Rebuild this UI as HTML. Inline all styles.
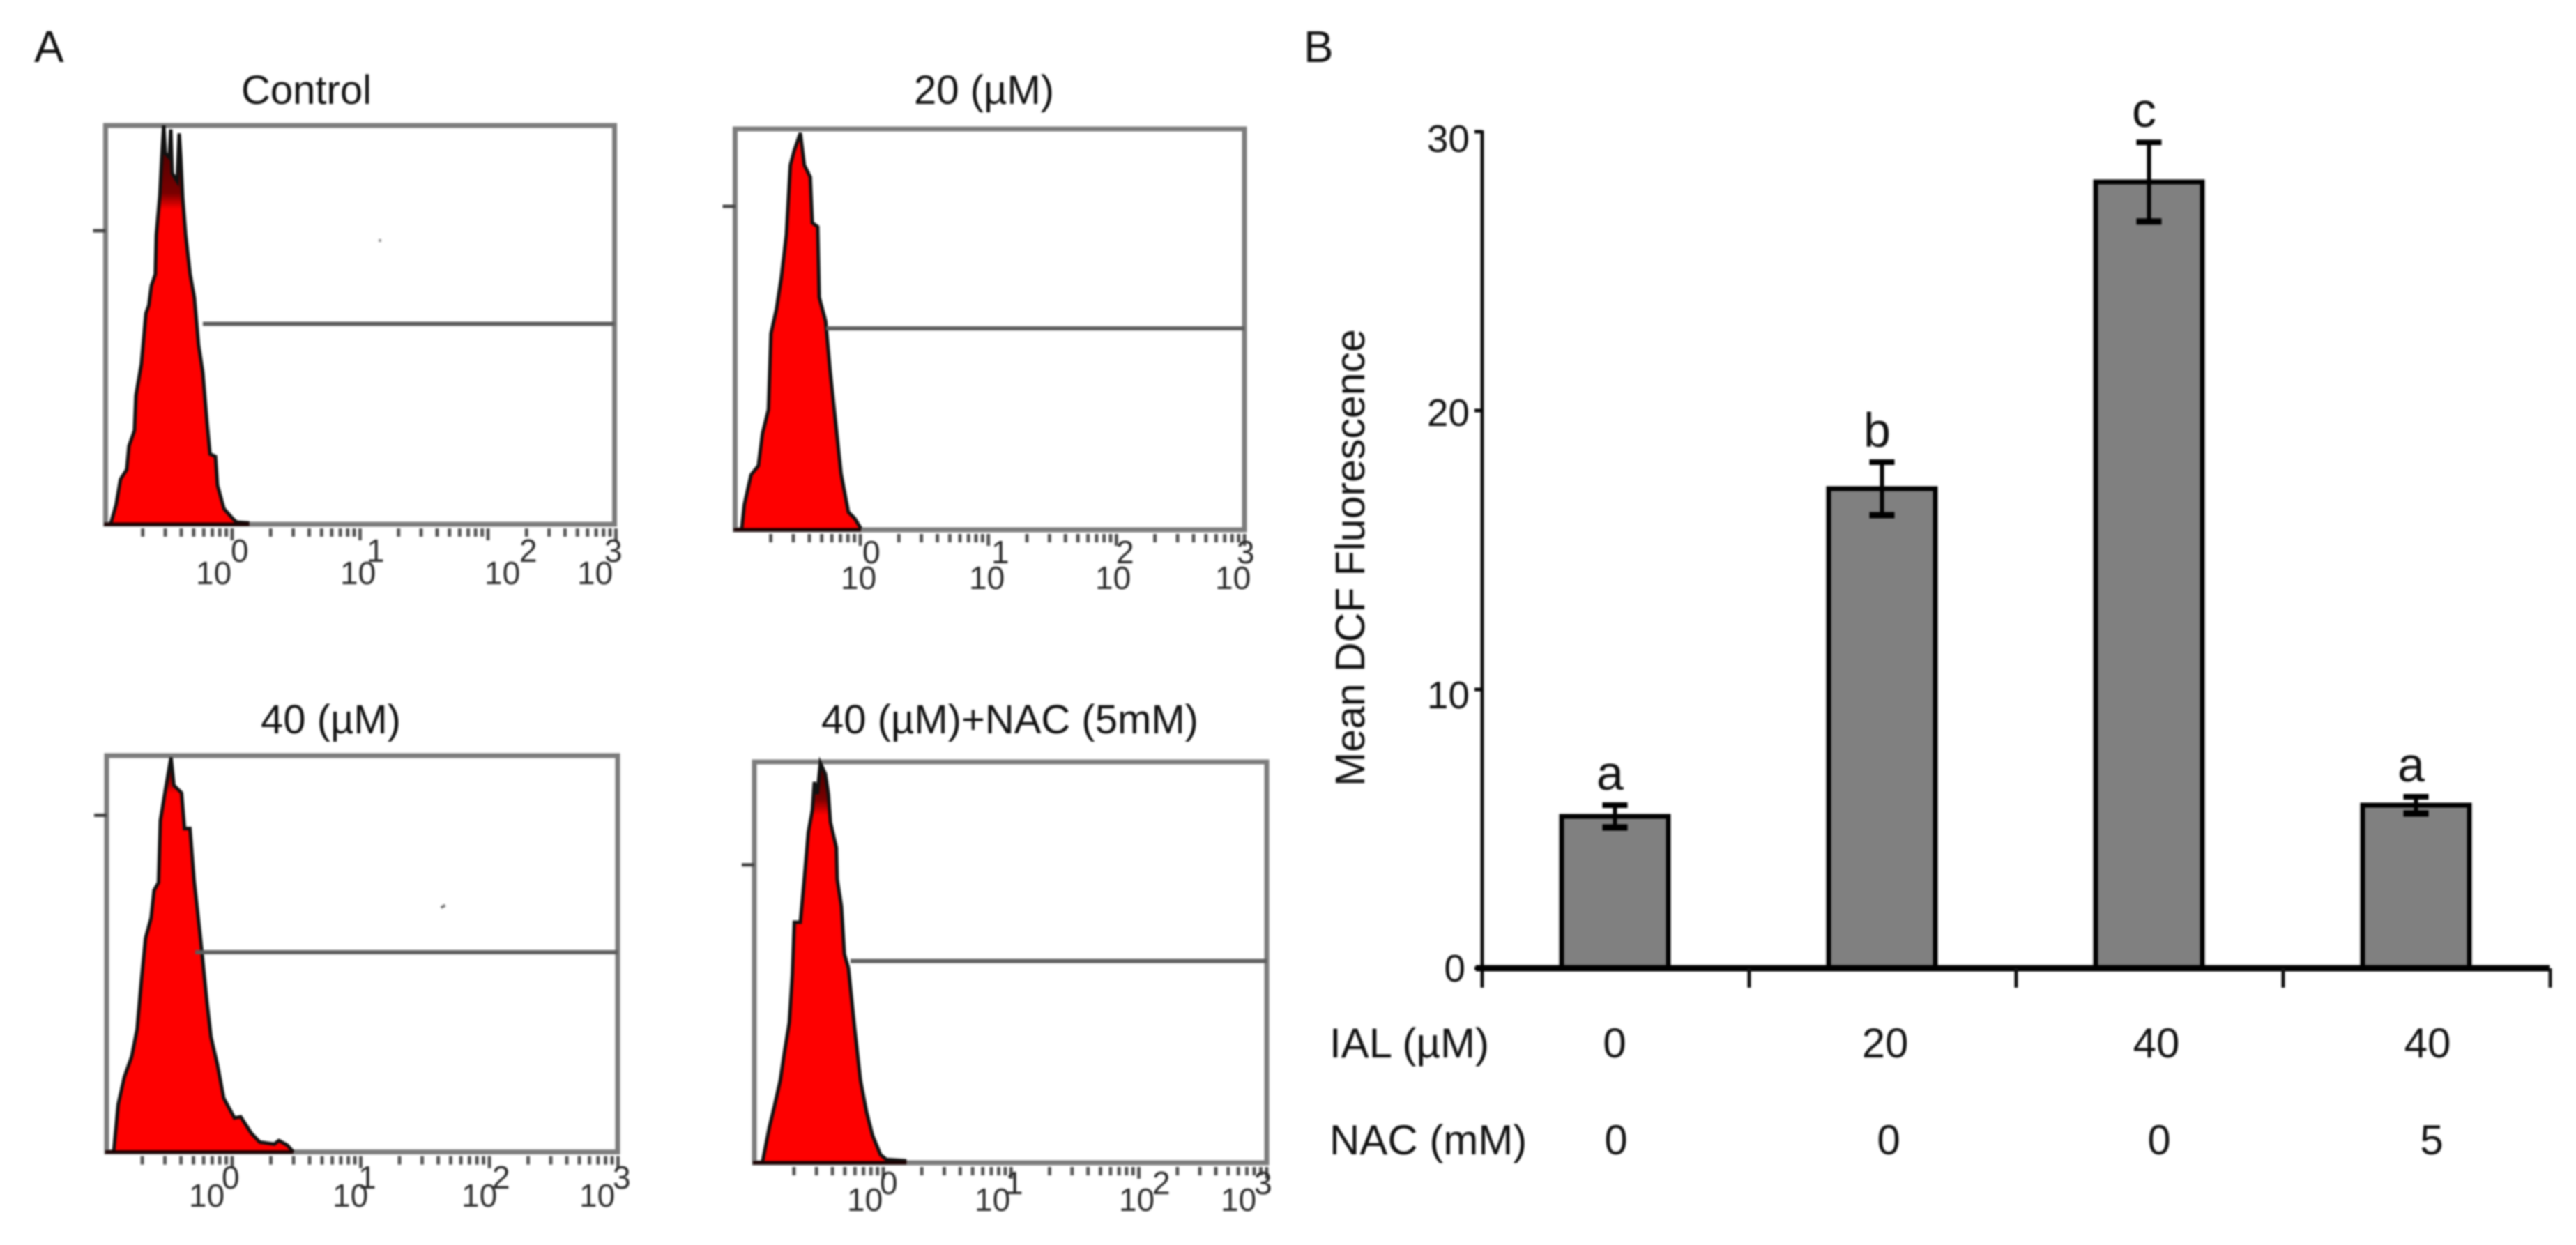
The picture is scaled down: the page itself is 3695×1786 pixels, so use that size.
<!DOCTYPE html>
<html lang="en">
<head>
<meta charset="utf-8">
<title>Flow cytometry histograms and mean DCF fluorescence</title>
<style>
html,body{margin:0;padding:0;background:#fff;width:3695px;height:1786px;overflow:hidden}
svg{display:block;filter:blur(1.3px)}
text{font-family:"Liberation Sans",sans-serif;fill:#111}
.title{font-size:58px}
.tick{font-size:46px;fill:#2a2a2a}
.num{font-size:55px}
.row{font-size:60px}
.ytitle{font-size:59px}
.panel{font-size:64px}
</style>
</head>
<body>
<svg id="figure" xmlns="http://www.w3.org/2000/svg" width="3695" height="1786" viewBox="0 0 3695 1786">
  <rect width="3695" height="1786" fill="#fff"/>

  <text class="panel" x="49" y="89">A</text>
  <text class="panel" x="1870" y="89">B</text>

  <text class="title" x="346" y="149">Control</text>
  <text class="title" x="1311" y="149">20 (µM)</text>
  <text class="title" x="374" y="1052">40 (µM)</text>
  <text class="title" x="1178" y="1052">40 (µM)+NAC (5mM)</text>

  <g id="control-panel"></g>
  <g id="um20-panel"></g>
  <g id="um40-panel"></g>
  <g id="nac-panel"></g>

  <g>
    <text class="tick"><tspan x="281" y="838">10</tspan><tspan x="331" y="806">0</tspan></text>
    <text class="tick"><tspan x="488" y="838">10</tspan><tspan x="526" y="806">1</tspan></text>
    <text class="tick"><tspan x="695" y="838">10</tspan><tspan x="745" y="806">2</tspan></text>
    <text class="tick"><tspan x="828" y="838">10</tspan><tspan x="867" y="806">3</tspan></text>
  </g>
  <g>
    <text class="tick"><tspan x="1206" y="845">10</tspan><tspan x="1237" y="808">0</tspan></text>
    <text class="tick"><tspan x="1390" y="845">10</tspan><tspan x="1422" y="808">1</tspan></text>
    <text class="tick"><tspan x="1571" y="845">10</tspan><tspan x="1601" y="808">2</tspan></text>
    <text class="tick"><tspan x="1743" y="845">10</tspan><tspan x="1774" y="808">3</tspan></text>
  </g>
  <g>
    <text class="tick"><tspan x="271" y="1731">10</tspan><tspan x="318" y="1705">0</tspan></text>
    <text class="tick"><tspan x="477" y="1731">10</tspan><tspan x="514" y="1705">1</tspan></text>
    <text class="tick"><tspan x="662" y="1731">10</tspan><tspan x="706" y="1705">2</tspan></text>
    <text class="tick"><tspan x="831" y="1731">10</tspan><tspan x="879" y="1705">3</tspan></text>
  </g>
  <g>
    <text class="tick"><tspan x="1215" y="1737">10</tspan><tspan x="1262" y="1713">0</tspan></text>
    <text class="tick"><tspan x="1398" y="1737">10</tspan><tspan x="1442" y="1713">1</tspan></text>
    <text class="tick"><tspan x="1605" y="1737">10</tspan><tspan x="1653" y="1713">2</tspan></text>
    <text class="tick"><tspan x="1751" y="1737">10</tspan><tspan x="1799" y="1713">3</tspan></text>
  </g>

  <rect x="543" y="343" width="4" height="4" fill="#999"/>
  <rect x="632" y="1298" width="7" height="4" fill="#777" transform="rotate(-30 636 1300)"/>

  <g id="bar-chart"></g>

  <text class="ytitle" transform="translate(1957 1128) rotate(-90)" x="0" y="0">Mean DCF Fluorescence</text>
  <text class="num" x="2108" y="218" text-anchor="end">30</text>
  <text class="num" x="2108" y="611" text-anchor="end">20</text>
  <text class="num" x="2108" y="1016" text-anchor="end">10</text>
  <text class="num" x="2102" y="1408" text-anchor="end">0</text>

  <text class="row" x="1907" y="1517">IAL (µM)</text>
  <text class="row" x="2316" y="1517" text-anchor="middle">0</text>
  <text class="row" x="2704" y="1517" text-anchor="middle">20</text>
  <text class="row" x="3093" y="1517" text-anchor="middle">40</text>
  <text class="row" x="3482" y="1517" text-anchor="middle">40</text>
  <text class="row" x="1907" y="1656">NAC (mM)</text>
  <text class="row" x="2318" y="1656" text-anchor="middle">0</text>
  <text class="row" x="2709" y="1656" text-anchor="middle">0</text>
  <text class="row" x="3097" y="1656" text-anchor="middle">0</text>
  <text class="row" x="3488" y="1656" text-anchor="middle">5</text>
</svg>

<script>
// Histogram data: channel (0-1024) and count (% of frame height)
const controlChannels = [10,21,30,42.5,47,58,61,72,81,87,92,100,102,109,113,117,120,128,131,134,144,148,151,155,161,170,178.5,187,195.5,204,210,221,225,238,255,263.5,289];
const controlCounts = [0,4.9,11.3,13.7,19.6,23.5,32.3,40.2,52.9,54.9,59.8,62.7,72.5,82.3,92,100,93,92,99,88,86,98,92,82,72.5,62.7,56.8,45,38,25.5,17.6,17,9.8,3.9,1.5,0.5,0.3];
const um20Channels = [13,18.5,32,46.7,55,67,72,83,93,103,111,119,131,139,151,155,166,169,182,191,203.5,213,227.6,240,253];
const um20Counts = [0,6.3,13.7,16,24,30,49,55,63,73.7,91,94.7,99,91,88,76.6,75.6,58,52,39.5,25,14,4.4,2.9,0.3];
const um40Channels = [14,23,35.6,50,61,69.5,78,89,95,104,107.6,118,129,134.7,150,156,167,175,185.5,190.6,200.7,209,222,234.6,256,268.5,290,306.6,336,345,362,374];
const um40Counts = [0,12,19,24,31,43,54,59,66,68,83.6,91.6,99.5,92.5,90.6,81.6,81.6,68.7,56.8,50.8,38,29,22,13.6,8.6,8.9,4.7,2.5,2,2.9,1.7,0];
const nacChannels = [16,30,40,52,60,70,76,80,92,100,108,116,120,126,132,142,148,152,164,165.6,174,180,188,200,212,224,236,252,264,304];
const nacCounts = [0,8.8,14,20.6,27.5,35,47,60,60,71,82.5,88,95,92,99.7,97,92,85,78.6,70.7,64,52,48.6,34,20.6,12.8,6.9,2,0.8,0.5];

// Bar chart data
const groups = ['IAL 0 / NAC 0','IAL 20 / NAC 0','IAL 40 / NAC 0','IAL 40 / NAC 5'];
const meanFluorescence = [5.45,17.2,28.2,5.85];
const errorMagnitudes = [0.4,0.95,1.42,0.3];
const significanceLetters = ['a','b','c','a'];
const yTickValues = [0,10,20,30];

const SVGNS = 'http://www.w3.org/2000/svg';
function make(parent, tag, attrs) {
  const el = document.createElementNS(SVGNS, tag);
  for (const k in attrs) el.setAttribute(k, attrs[k]);
  parent.appendChild(el);
  return el;
}

const defs = make(document.getElementById('figure'), 'defs', {});
function shadeGradient(id, depth) {
  const grad = make(defs, 'linearGradient', {id: id, x1: 0, x2: 0, y1: 0, y2: 1});
  make(grad, 'stop', {offset: 0, 'stop-color': depth > 0 ? '#3a0000' : '#fe0000'});
  make(grad, 'stop', {offset: depth, 'stop-color': depth > 0 ? '#7a0000' : '#fe0000'});
  make(grad, 'stop', {offset: depth + 0.04, 'stop-color': '#fe0000'});
  make(grad, 'stop', {offset: 1, 'stop-color': '#fe0000'});
}

function drawHistogram(groupId, box, channels, counts) {
  const g = document.getElementById(groupId);
  const w = box.right - box.left, h = box.bottom - box.top;
  const xOf = ch => box.left + ch / 1024 * w;
  const yOf = c => box.bottom - c / 100 * h;
  const pts = channels.map((ch, i) => xOf(ch).toFixed(1) + ',' + yOf(counts[i]).toFixed(1));
  const lastX = xOf(channels[channels.length - 1]);

  shadeGradient(groupId + '-grad', box.shade);

  const frame = make(g, 'rect', {x: box.left, y: box.top, width: w, height: h, fill: '#fff', stroke: '#7c7c7c', 'stroke-width': 7});
  
  

  const fill = make(g, 'polygon', {points: xOf(channels[0]) + ',' + box.bottom + ' ' + pts.join(' ') + ' ' + lastX + ',' + box.bottom, fill: 'url(#' + groupId + '-grad)', stroke: 'none'});
  
  

  const outline = make(g, 'polyline', {points: pts.join(' '), fill: 'none', stroke: '#111', 'stroke-width': 5, 'stroke-linejoin': 'miter'});
  
  

  const base = make(g, 'line', {x1: box.left - 2, x2: lastX, y1: box.bottom, y2: box.bottom, stroke: '#1a0000', 'stroke-width': 5});
  
  

  const marker = make(g, 'line', {x1: box.markerX, x2: box.right, y1: box.markerY, y2: box.markerY, stroke: '#5c5c5c', 'stroke-width': 6});
  
  

  const yt = make(g, 'line', {x1: box.left - 18, x2: box.left, y1: box.yTick, y2: box.yTick, stroke: '#444', 'stroke-width': 5});
  
  

  const decadeX = d => box.zero + (d - 1) * box.decade;
  for (let d = 0; d < 4; d++) {
    for (let m = 2; m <= 10; m++) {
      const x = decadeX(d) + Math.log10(m) * box.decade;
      if (x > box.right + 2) continue;
      const t = make(g, 'line', {x1: x, x2: x, y1: box.bottom + 6, y2: box.bottom + (m === 10 ? 23 : 18), stroke: '#555', 'stroke-width': 5});
      
      
    }
  }
}

drawHistogram('control-panel', {left:151.5,right:881.6,top:180,bottom:752,markerX:291,markerY:464.5,yTick:331,zero:333,decade:183.5,shade:0.17}, controlChannels, controlCounts);
drawHistogram('um20-panel', {left:1054.5,right:1785,top:185,bottom:760,markerX:1185,markerY:471,yTick:296,zero:1234,decade:183.7,shade:0}, um20Channels, um20Counts);
drawHistogram('um40-panel', {left:153,right:886,top:1084,bottom:1652.6,markerX:280,markerY:1366,yTick:1169.5,zero:333,decade:184.5,shade:0.05}, um40Channels, um40Counts);
drawHistogram('nac-panel', {left:1082,right:1817,top:1093,bottom:1668,markerX:1220,markerY:1378.6,yTick:1240.7,zero:1267,decade:183.3,shade:0.09}, nacChannels, nacCounts);

// Bar chart
(function () {
  const g = document.getElementById('bar-chart');
  const yOf = v => 1389 - v * 40;
  const band = 383;
  const centre = i => 2126 + band * (i + 0.5);
  const barW = 153;

  groups.forEach((name, i) => {
    const cx = centre(i) - 1;
    const top = yOf(meanFluorescence[i]);
    const bar = make(g, 'rect', {x: cx - barW / 2, y: top, width: barW, height: 1389 - top, fill: '#808080', stroke: '#000', 'stroke-width': 7});
    
    

    const hi = yOf(meanFluorescence[i] + errorMagnitudes[i]);
    const lo = yOf(meanFluorescence[i] - errorMagnitudes[i]);
    const stem = make(g, 'line', {x1: cx, x2: cx, y1: hi, y2: lo, stroke: '#000', 'stroke-width': 6});
    
    
    const capHi = make(g, 'line', {x1: cx - 18, x2: cx + 18, y1: hi, y2: hi, stroke: '#000', 'stroke-width': 8});
    
    
    const capLo = make(g, 'line', {x1: cx - 18, x2: cx + 18, y1: lo, y2: lo, stroke: '#000', 'stroke-width': 9});
    
    

    const letter = make(g, 'text', {x: cx - 7, y: hi - 22, 'text-anchor': 'middle', 'font-size': 70});
    
    
    letter.textContent = significanceLetters[i];
  });

  const yAxis = make(g, 'line', {x1: 2126, x2: 2126, y1: 187, y2: 1417, stroke: '#111', 'stroke-width': 5});
  
  
  const xAxis = make(g, 'line', {x1: 2117, x2: 3657, y1: 1389, y2: 1389, stroke: '#000', 'stroke-width': 9});
  
  

  yTickValues.forEach(v => {
    const t = make(g, 'line', {x1: 2115, x2: 2126, y1: yOf(v), y2: yOf(v), stroke: '#000', 'stroke-width': 5});
    
    
  });
  for (let i = 1; i <= groups.length; i++) {
    const x = 2126 + band * i;
    const t = make(g, 'line', {x1: x, x2: x, y1: 1389, y2: 1417, stroke: '#111', 'stroke-width': 5});
    
    
  }
})();
</script>
</body>
</html>
